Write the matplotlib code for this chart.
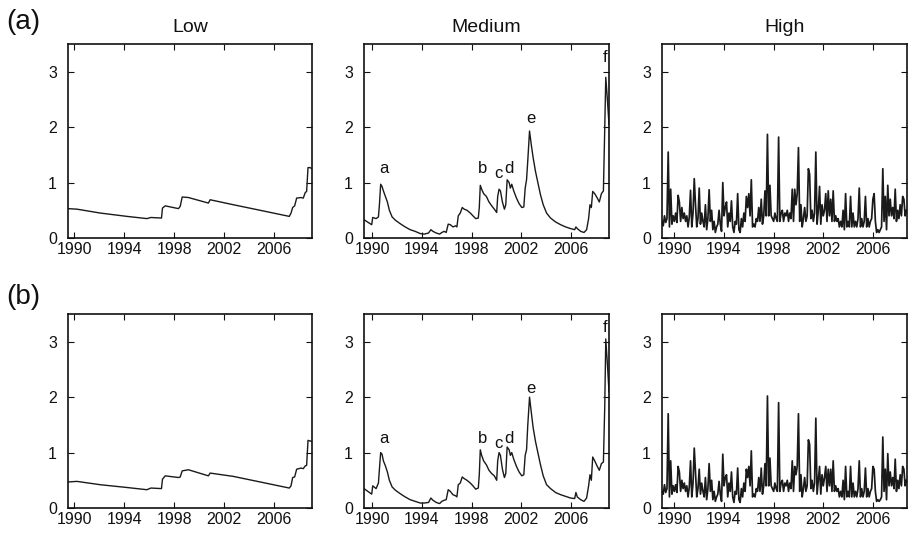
import matplotlib
matplotlib.use("Agg")
import matplotlib.pyplot as plt

plt.rcParams["font.family"] = ["Liberation Sans", "DejaVu Sans"]

LINE = "#1a1a1a"

# ---- Low ----
low_years = [1989.5, 1990.22, 1992.09, 1994.22, 1995.82, 1996.14, 1996.99,
             1997.07, 1997.29, 1998.35, 1998.49, 1998.65, 1999.15, 2000.75,
             2000.89, 2002.75, 2004.89, 2007.23, 2007.37, 2007.5, 2007.66,
             2007.82, 2008.17, 2008.35, 2008.51, 2008.62, 2008.73, 2008.89,
             2009.05]
low_a = [0.53, 0.52, 0.45, 0.39, 0.35, 0.37, 0.36,
         0.54, 0.58, 0.53, 0.57, 0.74, 0.73, 0.63,
         0.69, 0.60, 0.50, 0.39, 0.45, 0.55, 0.58,
         0.72, 0.73, 0.72, 0.82, 0.84, 1.27, 1.27,
         1.25]
low_b = [0.47, 0.48, 0.42, 0.37, 0.33, 0.36, 0.35,
         0.52, 0.58, 0.55, 0.56, 0.67, 0.69, 0.58,
         0.63, 0.57, 0.47, 0.36, 0.40, 0.55, 0.56,
         0.70, 0.72, 0.71, 0.76, 0.77, 1.22, 1.21,
         1.20]

# ---- Medium ----
med_years = [1989.35, 1989.97, 1990.05, 1990.32, 1990.51, 1990.59, 1990.69,
             1990.80, 1990.91, 1991.07, 1991.23, 1991.39, 1991.61, 1991.88,
             1992.25, 1992.66, 1993.06, 1993.46, 1993.87, 1994.19, 1994.54,
             1994.73, 1994.89, 1995.16, 1995.43, 1995.61, 1995.80, 1995.96,
             1996.12, 1996.29, 1996.50, 1996.72, 1996.82, 1996.93, 1997.09,
             1997.25, 1997.41, 1997.63, 1997.90, 1998.11, 1998.33, 1998.54,
             1998.62, 1998.70, 1998.81, 1998.97, 1999.19, 1999.40, 1999.62,
             1999.83, 2000.02, 2000.10, 2000.21, 2000.32, 2000.48, 2000.64,
             2000.75, 2000.86, 2001.02, 2001.12, 2001.23, 2001.39, 2001.61,
             2001.82, 2002.04, 2002.20, 2002.31, 2002.42, 2002.52, 2002.66,
             2002.79, 2002.95, 2003.14, 2003.33, 2003.54, 2003.76, 2004.03,
             2004.35, 2004.75, 2005.16, 2005.56, 2005.96, 2006.29, 2006.39,
             2006.50, 2006.77, 2007.04, 2007.25, 2007.41, 2007.52, 2007.63,
             2007.74, 2007.90, 2008.11, 2008.27, 2008.44, 2008.60, 2008.71,
             2008.79, 2008.92, 2009.05]
med_a = [0.33, 0.24, 0.37, 0.35, 0.38, 0.60, 0.97,
         0.93, 0.85, 0.75, 0.65, 0.50, 0.38, 0.32,
         0.26, 0.20, 0.15, 0.12, 0.08, 0.07, 0.09,
         0.15, 0.12, 0.09, 0.07, 0.10, 0.12, 0.10,
         0.25, 0.24, 0.20, 0.22, 0.20, 0.40, 0.45,
         0.55, 0.52, 0.50, 0.45, 0.40, 0.35, 0.36,
         0.55, 0.95, 0.88, 0.80, 0.75, 0.65, 0.58,
         0.52, 0.46, 0.75, 0.88, 0.85, 0.65, 0.52,
         0.60, 1.05, 1.00, 0.90, 0.97, 0.85, 0.72,
         0.62, 0.55, 0.56, 0.90, 1.05, 1.40, 1.93,
         1.70, 1.45, 1.20, 1.00, 0.78, 0.60, 0.45,
         0.36, 0.29, 0.24, 0.20, 0.17, 0.15, 0.20,
         0.17, 0.12, 0.10, 0.15, 0.35, 0.60, 0.55,
         0.84, 0.80, 0.72, 0.65, 0.80, 0.85, 2.00,
         2.90, 2.50, 2.05]
med_b = [0.35, 0.25, 0.40, 0.35, 0.45, 0.70, 1.00,
         0.97, 0.85, 0.76, 0.65, 0.50, 0.38, 0.32,
         0.26, 0.20, 0.15, 0.12, 0.09, 0.09, 0.10,
         0.18, 0.14, 0.10, 0.08, 0.12, 0.14, 0.15,
         0.33, 0.30, 0.24, 0.22, 0.20, 0.42, 0.45,
         0.56, 0.53, 0.50, 0.45, 0.40, 0.34, 0.36,
         0.60, 1.05, 0.95, 0.85, 0.78, 0.68, 0.62,
         0.58, 0.50, 0.85, 1.00, 0.95, 0.70, 0.55,
         0.62, 1.10, 1.05, 0.95, 1.00, 0.88, 0.75,
         0.65, 0.58, 0.60, 0.95, 1.05, 1.50, 2.00,
         1.75, 1.45, 1.20, 1.00, 0.78, 0.58, 0.42,
         0.35, 0.28, 0.24, 0.21, 0.18, 0.17, 0.28,
         0.20, 0.15, 0.12, 0.18, 0.40, 0.60, 0.50,
         0.92, 0.85, 0.75, 0.68, 0.80, 0.83, 1.85,
         3.05, 2.60, 2.10]

# event labels on the Medium panels
event_names = ["a", "b", "c", "d", "e", "f"]
event_years = [1990.96, 1998.90, 2000.20, 2001.03, 2002.80, 2008.77]
event_y = [1.26, 1.26, 1.17, 1.26, 2.16, 3.26]

# ---- High (one value every 0.1 yr from 1989.0) ----
high_a = [0.30, 0.22, 0.40, 0.28, 0.35, 1.55, 0.20, 0.88, 0.25, 0.40,
          0.30, 0.45, 0.28, 0.77, 0.65, 0.30, 0.55, 0.35, 0.45, 0.30,
          0.40, 0.20, 0.38, 0.86, 0.20, 0.45, 1.07, 0.60, 0.20, 0.35,
          0.90, 0.25, 0.45, 0.30, 0.20, 0.60, 0.15, 0.35, 0.87, 0.30,
          0.50, 0.15, 0.30, 0.10, 0.20, 0.25, 0.50, 0.25, 0.12, 1.00,
          0.40, 0.55, 0.65, 0.20, 0.45, 0.30, 0.67, 0.20, 0.10, 0.30,
          0.25, 0.80, 0.15, 0.10, 0.35, 0.20, 0.45, 0.30, 0.75, 0.55,
          0.80, 0.40, 1.05, 0.20, 0.25, 0.20, 0.35, 0.30, 0.55, 0.30,
          0.70, 0.25, 0.40, 0.85, 0.40, 1.87, 0.40, 0.95, 0.40, 0.35,
          0.30, 0.45, 0.35, 0.30, 1.82, 0.30, 0.45, 0.50, 0.30, 0.45,
          0.40, 0.50, 0.30, 0.45, 0.35, 0.88, 0.30, 0.88, 0.60, 0.80,
          1.63, 0.30, 0.60, 0.20, 0.35, 0.55, 0.30, 0.40, 1.25, 1.15,
          0.35, 0.50, 0.30, 0.45, 1.55, 0.25, 0.50, 0.93, 0.25, 0.60,
          0.40, 0.50, 0.80, 0.30, 0.85, 0.40, 0.70, 0.30, 0.85, 0.30,
          0.40, 0.30, 0.35, 0.20, 0.30, 0.20, 0.50, 0.15, 0.80, 0.20,
          0.30, 0.20, 0.75, 0.20, 0.45, 0.20, 0.30, 0.20, 0.35, 0.90,
          0.20, 0.35, 0.20, 0.30, 0.75, 0.20, 0.35, 0.20, 0.30, 0.35,
          0.70, 0.80, 0.30, 0.10, 0.15, 0.10, 0.15, 0.20, 1.25, 0.30,
          0.75, 0.15, 0.95, 0.40, 0.70, 0.40, 0.55, 0.35, 0.88, 0.30,
          0.50, 0.35, 0.60, 0.40, 0.75, 0.70, 0.40, 0.50]
high_b = [0.30, 0.25, 0.42, 0.28, 0.35, 1.70, 0.20, 0.85, 0.25, 0.40,
          0.30, 0.42, 0.28, 0.75, 0.65, 0.30, 0.50, 0.35, 0.45, 0.30,
          0.40, 0.20, 0.38, 0.85, 0.20, 0.45, 1.08, 0.65, 0.20, 0.35,
          0.70, 0.25, 0.45, 0.30, 0.20, 0.55, 0.15, 0.35, 0.80, 0.30,
          0.50, 0.15, 0.30, 0.12, 0.20, 0.25, 0.48, 0.25, 0.12, 0.97,
          0.40, 0.55, 0.60, 0.20, 0.45, 0.30, 0.65, 0.20, 0.10, 0.30,
          0.25, 0.72, 0.15, 0.10, 0.35, 0.20, 0.45, 0.30, 0.70, 0.55,
          0.75, 0.40, 1.03, 0.20, 0.25, 0.20, 0.35, 0.30, 0.55, 0.30,
          0.72, 0.25, 0.40, 0.80, 0.40, 2.02, 0.40, 0.90, 0.40, 0.35,
          0.30, 0.45, 0.35, 0.30, 1.90, 0.30, 0.45, 0.50, 0.30, 0.45,
          0.40, 0.50, 0.30, 0.45, 0.35, 0.85, 0.30, 0.75, 0.60, 0.75,
          1.70, 0.30, 0.60, 0.20, 0.35, 0.55, 0.30, 0.40, 1.23, 1.15,
          0.35, 0.50, 0.30, 0.45, 1.62, 0.25, 0.50, 0.75, 0.25, 0.60,
          0.40, 0.55, 0.75, 0.30, 0.70, 0.40, 0.70, 0.30, 0.85, 0.30,
          0.40, 0.30, 0.35, 0.20, 0.30, 0.20, 0.50, 0.15, 0.75, 0.20,
          0.30, 0.20, 0.75, 0.20, 0.45, 0.20, 0.30, 0.20, 0.35, 0.85,
          0.20, 0.35, 0.20, 0.30, 0.72, 0.20, 0.35, 0.20, 0.30, 0.35,
          0.75, 0.70, 0.30, 0.12, 0.15, 0.12, 0.15, 0.20, 1.28, 0.30,
          0.70, 0.15, 0.98, 0.40, 0.65, 0.40, 0.55, 0.35, 0.88, 0.30,
          0.50, 0.35, 0.60, 0.40, 0.75, 0.70, 0.40, 0.50]
high_years = [1989.0 + 0.1 * i for i in range(len(high_a))]

xticks = [1990, 1994, 1998, 2002, 2006]
yticks = [0, 1, 2, 3]
col_titles = ["Low", "Medium", "High"]
row_tags = ["(a)", "(b)"]

# axes boxes in pixels (left, right) and row (top, bottom); figure 908x536
W, H = 908, 536
col_px = [(68, 312), (364, 609), (662, 907)]
row_px = [(44, 238), (314, 508)]
col_xlim = [(1989.5, 2009.05), (1989.35, 2009.05), (1989.0, 2008.75)]
col_lw = [1.0, 1.0, 1.25]


def style_axes(ax, xlim):
    ax.set_xlim(*xlim)
    ax.set_ylim(0, 3.5)
    ax.set_xticks(xticks)
    ax.set_yticks(yticks)
    ax.tick_params(direction="in", top=True, right=True, length=4,
                   width=0.8, labelsize=11.5, colors="#111")
    ax.tick_params(axis="x", pad=3)
    ax.tick_params(axis="y", pad=8)
    for sp in ax.spines.values():
        sp.set_linewidth(1.2)
        sp.set_color("#111")


fig = plt.figure(figsize=(W / 100, H / 100), dpi=100)

series = [
    [(low_years, low_a), (med_years, med_a), (high_years, high_a)],
    [(low_years, low_b), (med_years, med_b), (high_years, high_b)],
]

for r, (top, bot) in enumerate(row_px):
    for c, (left, right) in enumerate(col_px):
        ax = fig.add_axes([left / W, 1 - bot / H, (right - left) / W,
                           (bot - top) / H])
        xs, ys = series[r][c]
        ax.plot(xs, ys, color=LINE, linewidth=col_lw[c])
        style_axes(ax, col_xlim[c])
        if r == 0:
            ax.set_title(col_titles[c], fontsize=14, pad=9, color="#111")
        if c == 1:
            for name, ex, ey in zip(event_names, event_years, event_y):
                ax.text(ex, ey, name, fontsize=12, ha="center", va="center",
                        color="#111")
    fig.text(6 / W, 1 - (22 + r * 275) / H, row_tags[r], fontsize=20,
             ha="left", va="center", color="#111")

fig.savefig("out.png", dpi=100)
